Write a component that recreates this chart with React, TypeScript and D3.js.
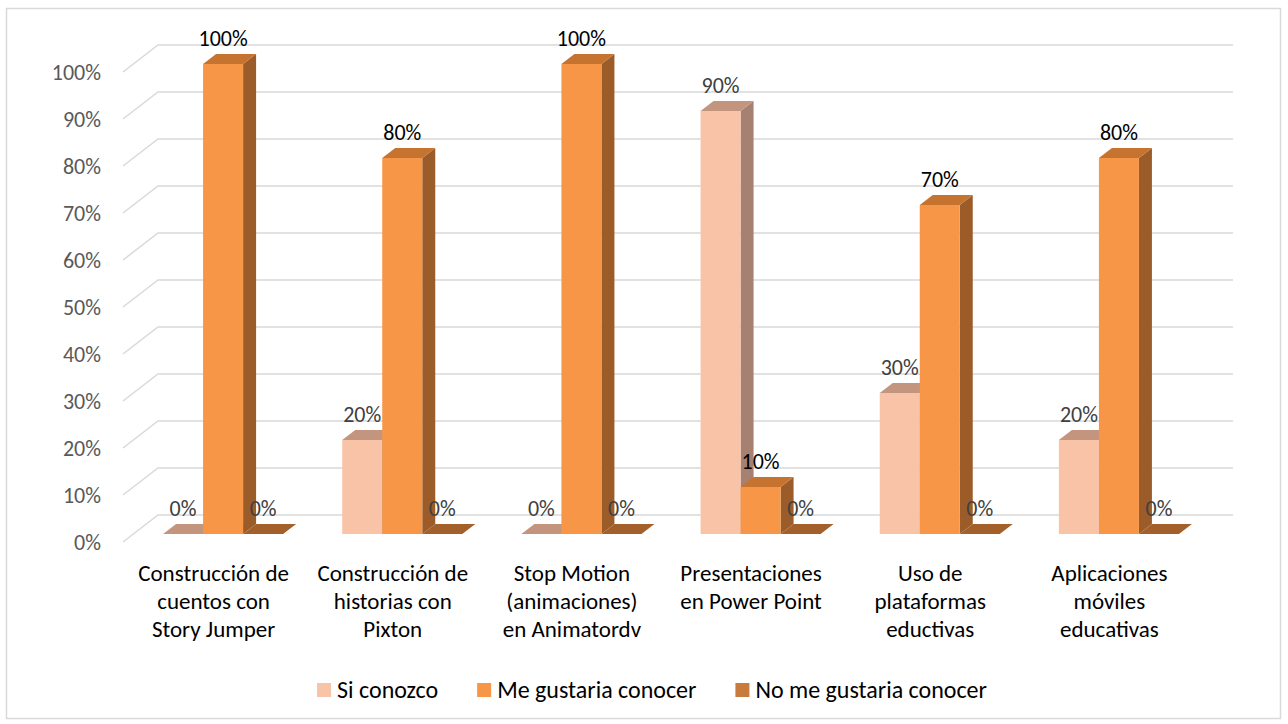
import React, { useEffect, useRef } from "react";
import * as d3 from "d3";

const categories = [
  ["Construcción de", "cuentos con", "Story Jumper"],
  ["Construcción de", "historias con", "Pixton"],
  ["Stop Motion", "(animaciones)", "en Animatordv"],
  ["Presentaciones", "en Power Point"],
  ["Uso de", "plataformas", "eductivas"],
  ["Aplicaciones", "móviles", "educativas"],
];
const seriesNames = ["Si conozco", "Me gustaria conocer", "No me gustaria conocer"];
const siConozco = [0, 0.2, 0, 0.9, 0.3, 0.2];
const meGustaria = [1, 0.8, 1, 0.1, 0.7, 0.8];
const noMeGustaria = [0, 0, 0, 0, 0, 0];
const ticks = [0, 0.1, 0.2, 0.3, 0.4, 0.5, 0.6, 0.7, 0.8, 0.9, 1];

// front / top / side shades per series
const colors = [
  { front: "#F9C3A8", top: "#C3957F", side: "#A68171", label: "#404040" },
  { front: "#F79646", top: "#C5732F", side: "#9C5C2A", label: "#000000" },
  { front: "#C97B3E", top: "#A4602A", side: "#84491E", label: "#404040" },
];

const FONT = "Carlito, Calibri, Lato, sans-serif";

export default function App() {
  const ref = useRef<SVGSVGElement>(null);

  useEffect(() => {
    const svg = d3.select(ref.current);
    svg.selectAll("*").remove();

    const width = 1288;
    // floor depth (wall) and bar placement inside the depth
    const wall = { dx: 35, dy: -27 };
    const barFront = { dx: 10.5, dy: -8 };
    const barDepth = { dx: 13, dy: -10 };

    const y = d3.scaleLinear().domain([0, 1]).range([542, 72]);
    const x = d3
      .scaleBand<number>()
      .domain(d3.range(categories.length))
      .range([123, 1198])
      .paddingInner(0.33)
      .paddingOuter(0.165);
    const xs = d3
      .scaleBand<number>()
      .domain([0, 1, 2])
      .range([0, x.bandwidth()])
      .padding(0);

    svg
      .append("rect")
      .attr("x", 6.5)
      .attr("y", 8.5)
      .attr("width", 1274)
      .attr("height", 710)
      .attr("fill", "#fff")
      .attr("stroke", "#d9d9d9")
      .attr("stroke-width", 1.5);

    // gridlines
    const grid = svg.append("g");
    ticks.forEach((t) => {
      const yf = y(t);
      grid
        .append("path")
        .attr(
          "d",
          `M123,${yf}L${123 + wall.dx},${yf + wall.dy}L${1198 + wall.dx},${yf + wall.dy}`
        )
        .attr("fill", "none")
        .attr("stroke", "#d9d9d9")
        .attr("stroke-width", 1.5);
    });

    // y tick labels
    svg
      .append("g")
      .selectAll("text")
      .data(ticks)
      .enter()
      .append("text")
      .attr("x", 101)
      .attr("y", (d) => y(d))
      .attr("dy", "0.35em")
      .attr("text-anchor", "end")
      .attr("fill", "#595959")
      .style("font-family", FONT)
      .style("font-size", "22px")
      .text((d) => d3.format(".0%")(d));

    const series = [siConozco, meGustaria, noMeGustaria];
    const bars = svg.append("g");
    const labels: { x: number; y: number; text: string; color: string }[] = [];

    categories.forEach((_, ci) => {
      series.forEach((vals, si) => {
        const v = vals[ci];
        const c = colors[si];
        const x0 = (x(ci) as number) + (xs(si) as number) + barFront.dx;
        const x1 = x0 + xs.bandwidth();
        const yb = y(0) + barFront.dy;
        const yt = y(v) + barFront.dy;
        const ddx = barDepth.dx;
        const ddy = barDepth.dy;
        // side
        bars
          .append("path")
          .attr(
            "d",
            `M${x1},${yb}L${x1 + ddx},${yb + ddy}L${x1 + ddx},${yt + ddy}L${x1},${yt}Z`
          )
          .attr("fill", c.side);
        // top
        bars
          .append("path")
          .attr(
            "d",
            `M${x0},${yt}L${x0 + ddx},${yt + ddy}L${x1 + ddx},${yt + ddy}L${x1},${yt}Z`
          )
          .attr("fill", c.top);
        // front
        bars
          .append("rect")
          .attr("x", x0)
          .attr("y", yt)
          .attr("width", x1 - x0)
          .attr("height", yb - yt)
          .attr("fill", c.front);
        labels.push({
          x: (x0 + x1) / 2,
          y: yt + ddy - 8,
          text: d3.format(".0%")(v),
          color: c.label,
        });
      });
    });

    svg
      .append("g")
      .selectAll("text")
      .data(labels)
      .enter()
      .append("text")
      .attr("x", (d) => d.x)
      .attr("y", (d) => d.y)
      .attr("text-anchor", "middle")
      .attr("fill", (d) => d.color)
      .style("font-family", FONT)
      .style("font-size", "22px")
      .text((d) => d.text);

    // category labels
    const cat = svg.append("g");
    categories.forEach((lines, ci) => {
      const cx = (x(ci) as number) + x.bandwidth() / 2 + 1;
      const t = cat
        .append("text")
        .attr("text-anchor", "middle")
        .attr("fill", "#000")
        .style("font-family", FONT)
        .style("font-size", "23px");
      lines.forEach((l, li) => {
        t.append("tspan").attr("x", cx).attr("y", 581 + li * 28).text(l);
      });
    });

    // legend
    const legend = svg.append("g");
    const items = seriesNames.map((name, i) => {
      const g = legend.append("g");
      g.append("rect")
        .attr("width", 14)
        .attr("height", 14)
        .attr("y", -7)
        .attr("fill", colors[i].front);
      const txt = g
        .append("text")
        .attr("x", 20)
        .attr("dy", "0.35em")
        .attr("fill", "#000")
        .style("font-family", FONT)
        .style("font-size", "24px")
        .text(name);
      const w = 20 + (txt.node() as SVGTextElement).getComputedTextLength();
      return { g, w };
    });
    const gap = 39;
    const total = d3.sum(items, (d) => d.w) + gap * (items.length - 1);
    let cx = width / 2 + 8 - total / 2;
    items.forEach((it) => {
      it.g.attr("transform", `translate(${cx},690)`);
      cx += it.w + gap;
    });
  }, []);

  return (
    <svg
      ref={ref}
      width={1288}
      height={724}
      style={{ position: "absolute", left: 0, top: 0, display: "block" }}
    />
  );
}
